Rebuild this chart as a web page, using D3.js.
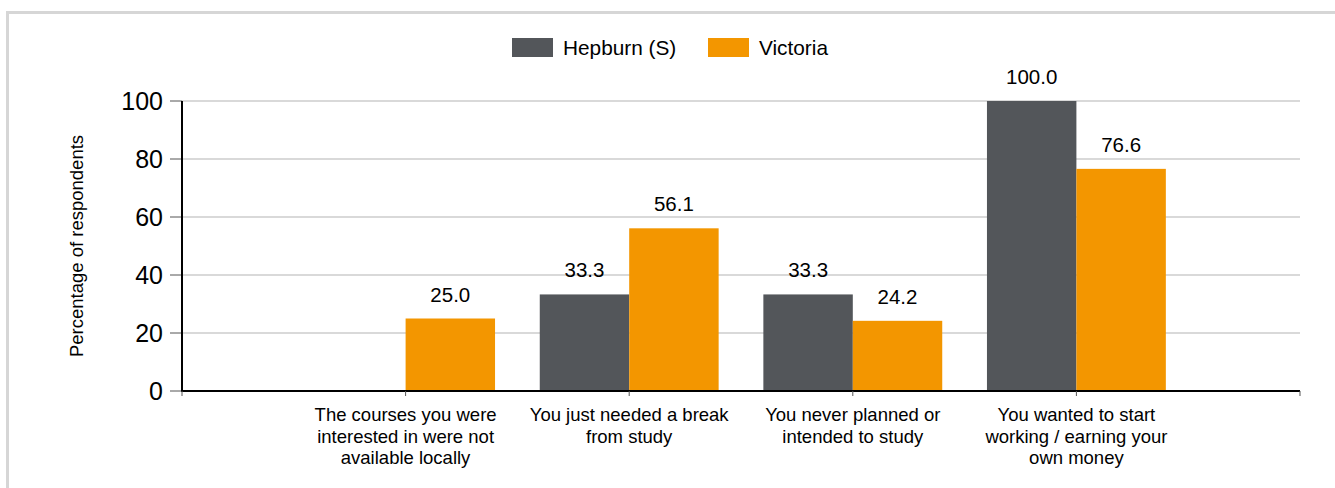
<!DOCTYPE html>
<html>
<head>
<meta charset="utf-8">
<script src="https://cdn.jsdelivr.net/npm/d3@7"></script>
<style>
  html, body { margin: 0; padding: 0; background: #fff; }
  svg { display: block; font-family: "Liberation Sans", Arial, sans-serif; }
</style>
</head>
<body>
<svg></svg>
<script>
// data
const categories = [
    'The courses you were\ninterested in were not\navailable locally',
    'You just needed a break\nfrom study',
    'You never planned or\nintended to study',
    'You wanted to start\nworking / earning your\nown money'
];
const seriesNames = ['Hepburn (S)', 'Victoria'];
const hepburn = [null, 33.3, 33.3, 100.0];
const victoria = [25.0, 56.1, 24.2, 76.6];
const yTicks = [0, 20, 40, 60, 80, 100];

const colors = ['#53565a', '#f39600'];

const size = {w: 1335, h: 488};
const plot = {l: 182, r: 1300, t: 101, b: 391};

const svg = d3.select('svg')
    .attr('width', size.w)
    .attr('height', size.h);

// outer frame
svg.append('rect')
    .attr('x', 7.5).attr('y', 12.5)
    .attr('width', size.w + 20).attr('height', size.h + 20)
    .attr('fill', 'none')
    .attr('stroke', '#d6d6d6')
    .attr('stroke-width', 3);

const x = d3.scalePoint()
    .domain(categories)
    .range([plot.l, plot.r])
    .padding(1);

const barW = x.step() * 0.4;

const y = d3.scaleLinear()
    .domain([0, 100])
    .range([plot.b, plot.t]);

// gridlines
svg.append('g')
    .selectAll('line')
    .data(yTicks.filter(d => d > 0))
    .join('line')
    .attr('x1', plot.l).attr('x2', plot.r)
    .attr('y1', d => y(d)).attr('y2', d => y(d))
    .attr('stroke', '#d9d9d9')
    .attr('stroke-width', 2);

// y axis ticks + labels
const yAxis = svg.append('g');
yAxis.selectAll('line')
    .data(yTicks)
    .join('line')
    .attr('x1', plot.l - 12).attr('x2', plot.l)
    .attr('y1', d => y(d)).attr('y2', d => y(d))
    .attr('stroke', '#555')
    .attr('stroke-width', 1);
yAxis.selectAll('text')
    .data(yTicks)
    .join('text')
    .attr('x', plot.l - 19)
    .attr('y', d => y(d))
    .attr('dy', '0.36em')
    .attr('text-anchor', 'end')
    .attr('font-size', 25)
    .attr('fill', '#000')
    .text(d => d);

svg.append('text')
    .attr('transform', `translate(83, 246) rotate(-90)`)
    .attr('text-anchor', 'middle')
    .attr('font-size', 18.5)
    .attr('fill', '#000')
    .text('Percentage of respondents');

// bars
const rows = categories.map((c, i) => ({cat: c, vals: [hepburn[i], victoria[i]]}));

const groups = svg.append('g')
    .selectAll('g')
    .data(rows)
    .join('g')
    .attr('transform', d => `translate(${x(d.cat)},0)`);

groups.selectAll('rect')
    .data(d => d.vals.map((v, j) => ({v, j})).filter(e => e.v != null))
    .join('rect')
    .attr('x', d => d.j === 0 ? -barW : 0)
    .attr('y', d => y(d.v))
    .attr('width', barW)
    .attr('height', d => y(0) - y(d.v))
    .attr('fill', d => colors[d.j]);

groups.selectAll('text')
    .data(d => d.vals.map((v, j) => ({v, j})).filter(e => e.v != null))
    .join('text')
    .attr('x', d => d.j === 0 ? -barW / 2 : barW / 2)
    .attr('y', d => y(d.v) - 17)
    .attr('text-anchor', 'middle')
    .attr('font-size', 20.5)
    .attr('fill', '#000')
    .text(d => d.v.toFixed(1));

// x axis
svg.append('line')
    .attr('x1', plot.l - 1).attr('x2', plot.r)
    .attr('y1', plot.b).attr('y2', plot.b)
    .attr('stroke', '#000')
    .attr('stroke-width', 2);
svg.append('line')
    .attr('x1', plot.l).attr('x2', plot.l)
    .attr('y1', plot.t).attr('y2', plot.b + 1)
    .attr('stroke', '#000')
    .attr('stroke-width', 2);

svg.append('g')
    .selectAll('line')
    .data([plot.l, ...categories.map(c => x(c)), plot.r])
    .join('line')
    .attr('x1', d => d).attr('x2', d => d)
    .attr('y1', plot.b).attr('y2', plot.b + 5)
    .attr('stroke', '#555')
    .attr('stroke-width', 1);

svg.append('g')
    .selectAll('text')
    .data(categories)
    .join('text')
    .attr('text-anchor', 'middle')
    .attr('font-size', 18.5)
    .attr('fill', '#000')
    .each(function(d) {
        d3.select(this).selectAll('tspan')
            .data(d.split('\n'))
            .join('tspan')
            .attr('x', x(d))
            .attr('y', (l, i) => 421 + i * 21.5)
            .text(l => l);
    });

// legend
const legend = svg.append('g')
    .selectAll('g')
    .data(seriesNames)
    .join('g')
    .attr('transform', (d, i) => `translate(${[512, 708][i]},38)`);
legend.append('rect')
    .attr('width', 41).attr('height', 19)
    .attr('fill', (d, i) => colors[i]);
legend.append('text')
    .attr('x', 51).attr('y', 16.5)
    .attr('font-size', 20.8)
    .attr('fill', '#000')
    .text(d => d);
</script>
</body>
</html>
